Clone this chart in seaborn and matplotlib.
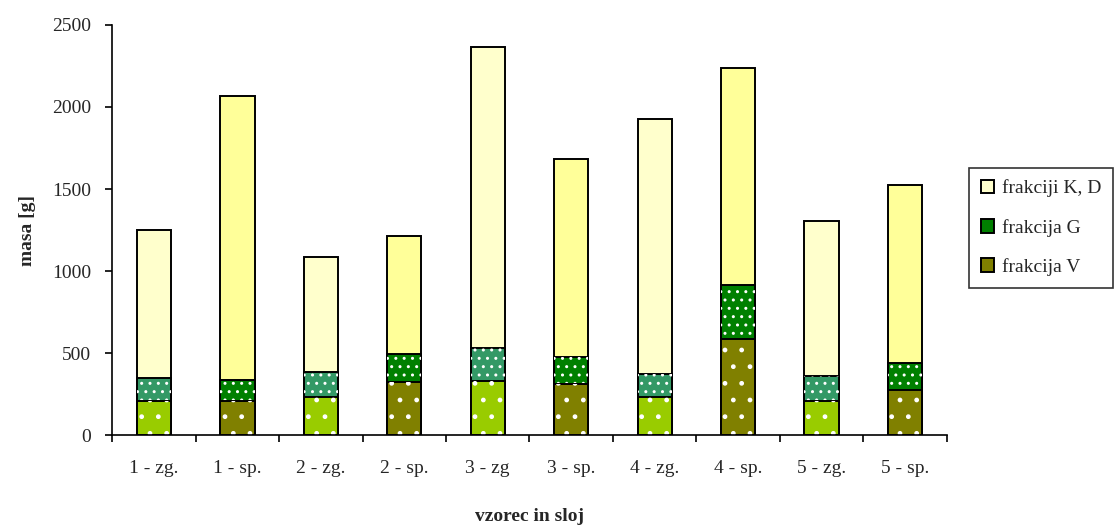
import pandas as pd
import numpy as np
import matplotlib
matplotlib.use("Agg")
import matplotlib.pyplot as plt
import seaborn as sns
from matplotlib.patches import Patch

# ==========================================
# Data
# ==========================================
categories = ['1 - zg.', '1 - sp.', '2 - zg.', '2 - sp.', '3 - zg',
              '3 - sp.', '4 - zg.', '4 - sp.', '5 - zg.', '5 - sp.']
frakcija_V = [207, 207, 230, 325, 331, 311, 232, 587, 207, 274]
frakcija_G = [139, 128, 154, 169, 199, 163, 138, 328, 151, 167]
frakciji_KD = [902, 1732, 701, 719, 1838, 1211, 1559, 1325, 947, 1085]

layer_names = ['frakciji K, D', 'frakcija G', 'frakcija V']

# colours: zg. (upper layer) lighter, sp. (lower layer) darker
col_zg = {'V': '#99CC00', 'G': '#339966', 'KD': '#FFFFCC'}
col_sp = {'V': '#808000', 'G': '#008000', 'KD': '#FFFF99'}

df = pd.DataFrame({'vzorec': categories, 'V': frakcija_V,
                   'G': frakcija_G, 'KD': frakciji_KD})
df['cum_G'] = df['V'] + df['G']
df['total'] = df['cum_G'] + df['KD']
is_zg = ['zg' in c for c in categories]

def pal(key):
    return [col_zg[key] if z else col_sp[key] for z in is_zg]

# ==========================================
# Plot
# ==========================================
sns.set_theme(style="white")
plt.rcParams['font.family'] = ['Liberation Serif', 'DejaVu Serif']
plt.rcParams['hatch.linewidth'] = 1.0

fs = 14
fig = plt.figure(figsize=(11.19, 5.28), dpi=100)
ax = fig.add_axes([0.1003, 0.176, 0.7457, 0.7767])

bw = 0.41
# stacked bars drawn as overlapping cumulative layers
sns.barplot(data=df, x='vzorec', y='total', hue='vzorec', palette=pal('KD'),
            legend=False, width=bw, edgecolor='black', linewidth=1.4,
            saturation=1, ax=ax)
sns.barplot(data=df, x='vzorec', y='cum_G', hue='vzorec', palette=pal('G'),
            legend=False, width=bw, edgecolor='black', linewidth=1.4,
            saturation=1, ax=ax)
n0 = len(ax.patches)
sns.barplot(data=df, x='vzorec', y='cum_G', width=bw, fill=False,
            color='white', linewidth=0, ax=ax)
for p in ax.patches[n0:]:
    p.set_hatch('..')
    p.set_edgecolor('white')
    p.set_linewidth(0)
sns.barplot(data=df, x='vzorec', y='V', hue='vzorec', palette=pal('V'),
            legend=False, width=bw, edgecolor='black', linewidth=1.4,
            saturation=1, ax=ax)
n1 = len(ax.patches)
sns.barplot(data=df, x='vzorec', y='V', width=bw, fill=False,
            color='white', linewidth=0, ax=ax)
for p in ax.patches[n1:]:
    p.set_hatch('.')
    p.set_edgecolor('white')
    p.set_linewidth(0)

# axes styling
ax.set_ylim(0, 2500)
ax.set_xlim(-0.5, len(categories) - 0.5)
ax.set_yticks(np.arange(0, 2501, 500))
ax.tick_params(axis='y', which='major', direction='out', length=5, width=1.2,
               color='black', labelsize=fs, pad=10, left=True)
ax.set_xticks(np.arange(-0.5, len(categories), 1.0))
ax.set_xticklabels([])
ax.set_xticks(np.arange(len(categories)), minor=True)
ax.set_xticklabels(categories, minor=True)
ax.tick_params(axis='x', which='major', direction='out', length=5, width=1.2,
               color='black', bottom=True)
ax.tick_params(axis='x', which='minor', length=0, labelsize=fs, pad=18)
for s in ['top', 'right']:
    ax.spines[s].set_visible(False)
for s in ['left', 'bottom']:
    ax.spines[s].set_color('black')
    ax.spines[s].set_linewidth(1.2)
ax.grid(False)

ax.set_xlabel('vzorec in sloj', fontsize=fs, fontweight='bold', labelpad=22)
ax.set_ylabel('masa [g]', fontsize=fs, fontweight='bold', labelpad=12)

# legend
handles = [
    Patch(facecolor=col_zg['KD'], edgecolor='black', linewidth=1.4, label=layer_names[0]),
    Patch(facecolor=col_sp['G'], edgecolor='black', linewidth=1.4, label=layer_names[1]),
    Patch(facecolor=col_sp['V'], edgecolor='black', linewidth=1.4, label=layer_names[2]),
]
leg = fig.legend(handles=handles, loc='upper left', bbox_to_anchor=(0.866, 0.682),
                 frameon=True, fancybox=False, edgecolor='black', fontsize=fs,
                 handlelength=0.7, handleheight=0.7, handletextpad=0.4,
                 labelspacing=1.1, borderpad=0.6, borderaxespad=0)
leg.get_frame().set_linewidth(1.2)

fig.savefig('out.png', dpi=100, facecolor='white')
